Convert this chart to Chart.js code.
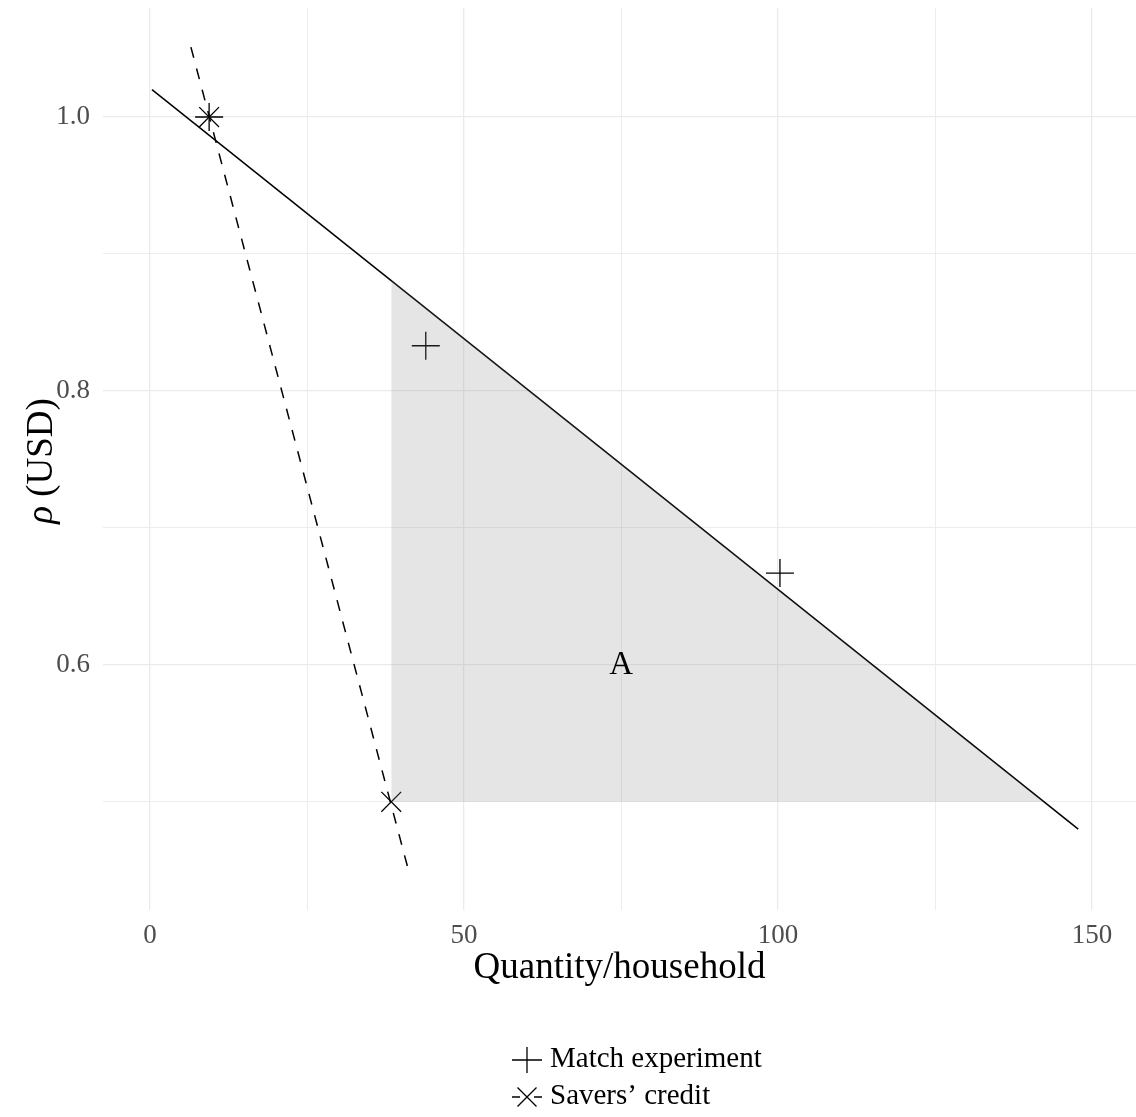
<!DOCTYPE html>
<html>
<head>
<title>Quantity per household</title>
<script src="https://cdn.jsdelivr.net/npm/chart.js"></script>
<style>
  html, body { margin: 0; padding: 0; background: #fff; }
</style>
</head>
<body>
<canvas id="demandChart" width="1136" height="1117"></canvas>
<script>
// demand curve (solid) and savers' credit curve (dashed), endpoints
var demandX = [0.3, 147.8];
var demandY = [1.020, 0.480];
var saversLineX = [6.5, 41.2];
var saversLineY = [1.051, 0.449];

// observed points
var matchX = [9.4, 43.9, 100.3];
var matchY = [1.0, 0.833, 0.667];
var saversX = [9.4, 38.4];
var saversY = [1.0, 0.5];

// shaded area A: between y = 0.5 and the demand curve, right of the savers' point
var areaX = [38.4, 142.3];
var areaY = [0.881, 0.5];
var areaBase = 0.5;
var areaLabel = 'A';
var areaLabelPos = [75, 0.6];

var xTicks = [0, 25, 50, 75, 100, 125, 150];
var xLabels = ['0', '', '50', '', '100', '', '150'];
var yTicks = [0.5, 0.6, 0.7, 0.8, 0.9, 1.0];
var yLabels = ['', '0.6', '', '0.8', '', '1.0'];

var legendNames = ['Match experiment', 'Savers\u2019 credit'];

var serif = '"Liberation Serif", "DejaVu Serif", serif';

function pts(xs, ys) {
    return xs.map(function (x, i) { return { x: x, y: ys[i] }; });
}

// y title, area label and the legend are drawn here
var extras = {
    id: 'extras',
    afterDraw: function (chart) {
        var ctx = chart.ctx;
        var xs = chart.scales.x, ys = chart.scales.y;
        ctx.save();
        ctx.fillStyle = '#000';

        // label inside the shaded area
        ctx.font = '33px ' + serif;
        ctx.textAlign = 'center';
        ctx.textBaseline = 'middle';
        ctx.fillText(areaLabel, xs.getPixelForValue(areaLabelPos[0]), ys.getPixelForValue(areaLabelPos[1]));

        // y axis title, italic rho
        ctx.save();
        ctx.translate(52, 461);
        ctx.rotate(-Math.PI / 2);
        ctx.textAlign = 'left';
        ctx.textBaseline = 'alphabetic';
        var rho = '\u03C1', rest = ' (USD)';
        ctx.font = 'italic 37px ' + serif;
        var w1 = ctx.measureText(rho).width;
        ctx.font = '37px ' + serif;
        var w2 = ctx.measureText(rest).width;
        var x0 = -(w1 + w2) / 2;
        ctx.font = 'italic 37px ' + serif;
        ctx.fillText(rho, x0, 0);
        ctx.font = '37px ' + serif;
        ctx.fillText(rest, x0 + w1, 0);
        ctx.restore();

        // legend
        var kx = 512, kw = 30;
        var rows = [1060, 1097];
        ctx.strokeStyle = '#000';
        ctx.lineWidth = 1.3;
        // solid line key with plus
        ctx.beginPath();
        ctx.moveTo(kx, rows[0]); ctx.lineTo(kx + kw, rows[0]);
        ctx.moveTo(kx + kw / 2, rows[0] - 13); ctx.lineTo(kx + kw / 2, rows[0] + 13);
        ctx.stroke();
        // dashed line key with cross
        ctx.setLineDash([8, 14]);
        ctx.beginPath();
        ctx.moveTo(kx, rows[1]); ctx.lineTo(kx + kw, rows[1]);
        ctx.stroke();
        ctx.setLineDash([]);
        var c = 9.5;
        ctx.beginPath();
        ctx.moveTo(kx + kw / 2 - c, rows[1] - c); ctx.lineTo(kx + kw / 2 + c, rows[1] + c);
        ctx.moveTo(kx + kw / 2 - c, rows[1] + c); ctx.lineTo(kx + kw / 2 + c, rows[1] - c);
        ctx.stroke();

        ctx.font = '29px ' + serif;
        ctx.textAlign = 'left';
        ctx.textBaseline = 'alphabetic';
        ctx.fillText(legendNames[0], 550, rows[0] + 7);
        ctx.fillText(legendNames[1], 550, rows[1] + 7);
        ctx.restore();
    }
};

function gridWidth(labels, ticks) {
    return function (c) {
        var i = ticks.indexOf(c.tick.value);
        return labels[i] === '' ? 0.9 : 1.3;
    };
}

var chart = new Chart(document.getElementById('demandChart').getContext('2d'), {
    type: 'scatter',
    data: {
        datasets: [{
            label: 'demand',
            data: pts(demandX, demandY),
            showLine: true,
            borderColor: '#000',
            borderWidth: 1.5,
            pointRadius: 0,
            order: 1
        }, {
            label: 'savers line',
            data: pts(saversLineX, saversLineY),
            showLine: true,
            borderColor: '#000',
            borderWidth: 1.5,
            borderDash: [11, 11],
            pointRadius: 0,
            order: 1
        }, {
            label: legendNames[0],
            data: pts(matchX, matchY),
            pointStyle: 'cross',
            pointRadius: 14,
            pointBorderWidth: 1.3,
            pointBorderColor: '#000',
            order: 1
        }, {
            label: legendNames[1],
            data: pts(saversX, saversY),
            pointStyle: 'crossRot',
            pointRadius: 14,
            pointBorderWidth: 1.3,
            pointBorderColor: '#000',
            order: 1
        }, {
            label: 'area',
            data: pts(areaX, areaY),
            showLine: true,
            borderWidth: 0,
            borderColor: 'rgba(0,0,0,0)',
            pointRadius: 0,
            fill: { value: areaBase },
            backgroundColor: 'rgba(127,127,127,0.2)',
            order: 0
        }]
    },
    options: {
        responsive: false,
        animation: false,
        layout: { autoPadding: false, padding: { top: 8, left: 0, right: 0, bottom: 122 } },
        plugins: {
            legend: { display: false },
            tooltip: { enabled: false }
        },
        scales: {
            x: {
                type: 'linear',
                min: -7.5,
                max: 157,
                afterBuildTicks: function (s) { s.ticks = xTicks.map(function (v) { return { value: v }; }); },
                afterFit: function (s) { s.height = 85; s.paddingLeft = 0; s.paddingRight = 0; },
                border: { display: false },
                grid: { color: '#ebebeb', lineWidth: gridWidth(xLabels, xTicks), drawTicks: false },
                ticks: {
                    padding: 10,
                    color: '#4d4d4d',
                    font: { family: serif, size: 27 },
                    callback: function (v) { return xLabels[xTicks.indexOf(v)]; }
                },
                title: {
                    display: true,
                    text: 'Quantity/household',
                    color: '#000',
                    font: { family: serif, size: 37 },
                    padding: { top: 0, bottom: 5 }
                }
            },
            y: {
                type: 'linear',
                min: 0.421,
                max: 1.0796,
                afterBuildTicks: function (s) { s.ticks = yTicks.map(function (v) { return { value: v }; }); },
                afterFit: function (s) { s.width = 103; s.paddingTop = 0; s.paddingBottom = 0; },
                border: { display: false },
                grid: { color: '#ebebeb', lineWidth: gridWidth(yLabels, yTicks), drawTicks: false },
                ticks: {
                    padding: 13,
                    color: '#4d4d4d',
                    font: { family: serif, size: 27 },
                    callback: function (v) { return yLabels[yTicks.indexOf(v)]; }
                }
            }
        }
    },
    plugins: [extras]
});
</script>
</body>
</html>
